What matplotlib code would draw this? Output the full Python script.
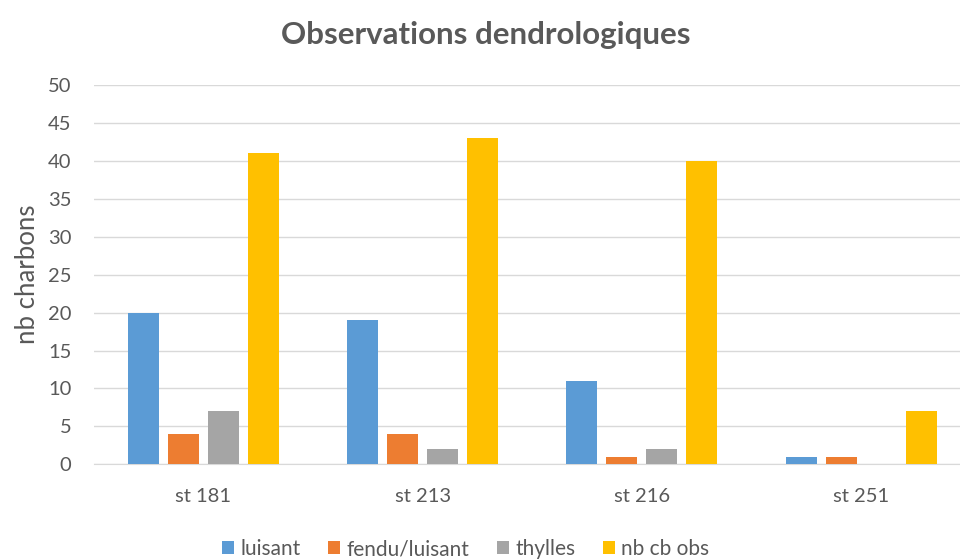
import matplotlib.pyplot as plt
import numpy as np

plt.rcParams['font.family'] = ['Lato', 'DejaVu Sans']

categories = ["st 181", "st 213", "st 216", "st 251"]
series = ["luisant", "fendu/luisant", "thylles", "nb cb obs"]
luisant = [20, 19, 11, 1]
fendu_luisant = [4, 4, 1, 1]
thylles = [7, 2, 2, 0]
nb_cb_obs = [41, 43, 40, 7]
colors = ["#5b9bd5", "#ed7d31", "#a5a5a5", "#ffc000"]

values = [luisant, fendu_luisant, thylles, nb_cb_obs]
text_col = "#595959"

fig = plt.figure(figsize=(9.6, 5.6), dpi=100)
# plot area runs a little past the right edge, like the exported sheet
ax = fig.add_axes([0.0977, 0.171, 0.9135, 0.677])

x = np.arange(len(categories))
step = 0.1824
width = 0.1414
for i, (name, vals) in enumerate(zip(series, values)):
    ax.bar(x + (i - 1.5) * step, vals, width, color=colors[i], label=name, zorder=3)

ax.set_xlim(-0.5, len(categories) - 0.5)
ax.set_ylim(0, 50)
ax.set_yticks(range(0, 51, 5))
ax.set_xticks(x)
ax.set_xticklabels(categories)
ax.grid(axis="y", color="#d9d9d9", linewidth=1, zorder=0)
for s in ["top", "right", "left"]:
    ax.spines[s].set_visible(False)
ax.spines["bottom"].set_color("#d9d9d9")
ax.tick_params(length=0, labelsize=14.5, colors=text_col)
ax.tick_params(axis="y", pad=16)
ax.tick_params(axis="x", pad=17)
ax.set_ylabel("nb charbons", fontsize=18.5, color=text_col, labelpad=6)

fig.suptitle("Observations dendrologiques", fontsize=22.5, fontweight="bold",
             color=text_col, x=0.506, y=0.962)
fig.legend(loc="lower center", ncol=4, frameon=False, fontsize=15,
           bbox_to_anchor=(0.485, -0.032), handlelength=0.6, handleheight=0.6,
           columnspacing=1.3, handletextpad=0.3, labelcolor=text_col)

fig.savefig("out.png", dpi=100)
